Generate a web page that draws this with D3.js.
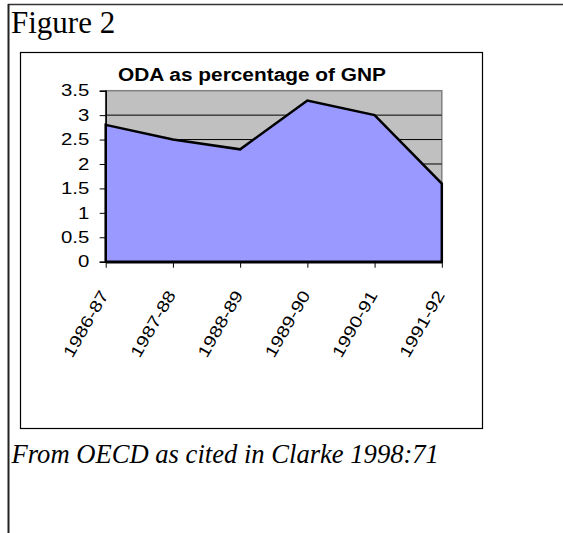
<!DOCTYPE html>
<html>
<head>
<meta charset="utf-8">
<script src="https://cdn.jsdelivr.net/npm/d3@7/dist/d3.min.js"></script>
<style>
  body { margin: 0; background: #fff; }
  svg { display: block; }
</style>
</head>
<body>
<svg></svg>
<script>
// data
let categories = ["1986-87", "1987-88", "1988-89", "1989-90", "1990-91", "1991-92"]
let values = [2.8, 2.5, 2.3, 3.3, 3.0, 1.6]
let yTicks = [0, 0.5, 1, 1.5, 2, 2.5, 3, 3.5]
let gridValues = [0.5, 1, 1.5, 2, 2.5, 3]

let width = 563
let height = 533

// plot area of the chart
let plotLeft = 105.7
let plotRight = 441.8
let plotTop = 90.7
let plotBottom = 261.7

let svg = d3.select("svg")
    .attr("width", width)
    .attr("height", height)

// page frame (top and left rules)
svg.append("line")
    .attr("x1", 8).attr("x2", width)
    .attr("y1", 4.5).attr("y2", 4.5)
    .attr("stroke", "#333").attr("stroke-width", 1.5)
svg.append("line")
    .attr("x1", 8.5).attr("x2", 8.5)
    .attr("y1", 4).attr("y2", height)
    .attr("stroke", "#222").attr("stroke-width", 2)

svg.append("text")
    .attr("x", 11)
    .attr("y", 33)
    .attr("font-family", "'Liberation Serif', 'Times New Roman', serif")
    .attr("font-size", 31)
    .text("Figure 2")

// chart box
svg.append("rect")
    .attr("x", 20.5).attr("y", 52.5)
    .attr("width", 462).attr("height", 376)
    .attr("fill", "#fff")
    .attr("stroke", "#000").attr("stroke-width", 1.2)

svg.append("text")
    .attr("x", 252)
    .attr("y", 81)
    .attr("text-anchor", "middle")
    .attr("font-family", "'Liberation Sans', Arial, sans-serif")
    .attr("font-weight", "bold")
    .attr("font-size", 18)
    .attr("textLength", 268)
    .attr("lengthAdjust", "spacingAndGlyphs")
    .text("ODA as percentage of GNP")

// scales
let xScale = d3.scalePoint()
    .domain(categories)
    .range([plotLeft, plotRight])

let yScale = d3.scaleLinear()
    .domain([0, 3.5])
    .range([plotBottom, plotTop])

// grey plot background
svg.append("rect")
    .attr("x", plotLeft).attr("y", plotTop)
    .attr("width", plotRight - plotLeft).attr("height", plotBottom - plotTop)
    .attr("fill", "#c0c0c0")
    .attr("stroke", "#808080").attr("stroke-width", 1.5)

// gridlines
svg.selectAll(".grid")
    .data(gridValues)
    .enter()
    .append("line")
    .attr("class", "grid")
    .attr("x1", plotLeft).attr("x2", plotRight)
    .attr("y1", (d) => yScale(d)).attr("y2", (d) => yScale(d))
    .attr("stroke", "#000").attr("stroke-width", 1)

// the area
let area = d3.area()
    .x((d, i) => xScale(categories[i]))
    .y0(yScale(0))
    .y1((d) => yScale(d))

svg.append("path")
    .datum(values)
    .attr("d", area)
    .attr("fill", "#9999ff")
    .attr("stroke", "#000")
    .attr("stroke-width", 2.5)
    .attr("stroke-linejoin", "miter")

// axes
let yAxis = d3.axisLeft(yScale)
    .tickValues(yTicks)
    .tickFormat((d) => String(d))
    .tickSize(6)
    .tickPadding(10)

let gy = svg.append("g")
    .attr("transform", "translate(" + plotLeft + ",0)")
    .call(yAxis)
gy.select(".domain").attr("stroke-width", 1.5)
gy.selectAll(".tick line").attr("stroke-width", 1)
gy.selectAll("text")
    .attr("x", 0)
    .attr("transform", "translate(-16.4,0) scale(1.25,1)")
    .attr("font-family", "'Liberation Sans', Arial, sans-serif")
    .attr("font-size", 16.3)
    .attr("fill", "#000")

let xAxis = d3.axisBottom(xScale)
    .tickSize(6)
    .tickSizeOuter(0)

let gx = svg.append("g")
    .attr("transform", "translate(0," + plotBottom + ")")
    .call(xAxis)
gx.select(".domain").attr("stroke-width", 2.5)
gx.selectAll("text")
    .attr("x", 0)
    .attr("y", 0)
    .attr("dy", 0)
    .attr("text-anchor", "end")
    .attr("transform", "translate(3,33) rotate(-60) scale(1.22,1)")
    .attr("font-family", "'Liberation Sans', Arial, sans-serif")
    .attr("font-size", 16.5)
    .attr("fill", "#000")

svg.append("text")
    .attr("x", 11.5)
    .attr("y", 463)
    .attr("font-family", "'Liberation Serif', 'Times New Roman', serif")
    .attr("font-style", "italic")
    .attr("font-size", 26.6)
    .text("From OECD as cited in Clarke 1998:71")
</script>
</body>
</html>
